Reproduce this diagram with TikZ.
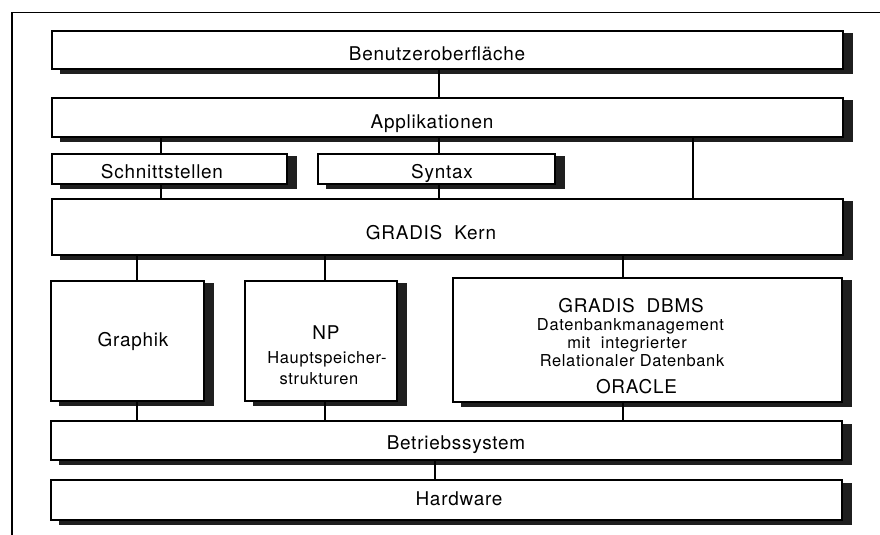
\documentclass[tikz,border=0pt]{standalone}
\usepackage{fontspec}
\setmainfont{TeX Gyre Heros}[LetterSpace=4]
\usetikzlibrary{backgrounds}
\begin{document}
\begin{tikzpicture}[x=1bp,y=-1bp,
  box/.style={draw=black,fill=white,line width=1.5bp,rectangle,inner sep=0pt,outer sep=0pt},
  conn/.style={line width=2.6bp},
  frame/.style={line width=1.5bp},
  big/.style={inner sep=0pt,anchor=base,font=\fontsize{19}{22}\selectfont},
  small/.style={inner sep=0pt,anchor=base,font=\fontsize{16.5}{19}\selectfont},
  shadowfill/.style={fill=black!88}]
\useasboundingbox (0,0) rectangle (880,535);
% frame
\coordinate (f0) at (12,535);
\coordinate (f1) at (12,12.5);
\coordinate (f2) at (880,12.5);
\draw[frame] (f0) -- (f1) -- (f2);
% boxes
\node[box,minimum width=791bp,minimum height=38bp] (benutzer) at (447.5,50) {};
\node[box,minimum width=791bp,minimum height=39bp] (appl) at (447.5,117.5) {};
\node[box,minimum width=235bp,minimum height=30bp] (schnitt) at (169.5,169) {};
\node[box,minimum width=237bp,minimum height=30bp] (syntax) at (436.5,169) {};
\node[box,minimum width=791bp,minimum height=56bp] (kern) at (447.5,227) {};
\node[box,minimum width=153bp,minimum height=120bp] (graphik) at (127.5,341) {};
\node[box,minimum width=152bp,minimum height=120bp] (np) at (321,341) {};
\node[box,minimum width=389bp,minimum height=124bp] (dbms) at (647.5,340) {};
\node[box,minimum width=791bp,minimum height=39bp] (betrieb) at (446.5,440.5) {};
\node[box,minimum width=791bp,minimum height=40bp] (hardware) at (446.5,500) {};
% shadows
\begin{scope}[on background layer]
\foreach \b in {benutzer,appl,schnitt,syntax,kern,graphik,np,dbms,betrieb,hardware}
  \fill[shadowfill] ([xshift=8bp,yshift=-5bp]\b.south west) rectangle ([xshift=10bp,yshift=-2.5bp]\b.north east);
\end{scope}
% texts
\node[big] (tbenutzer) at (437,61) {Benutzeroberfläche};
\node[big] (tappl) at (432,129) {Applikationen};
\node[big] (tschnitt) at (162,179) {Schnittstellen};
\node[big] (tsyntax) at (442,179) {Syntax};
\node[big] (tkern) at (431,240) {GRADIS\ \ Kern};
\node[big] (tgraphik) at (133,347) {Graphik};
\node[big] (tnp) at (326,340) {NP};
\node[small] (tnp2) at (327,363) {Hauptspeicher-};
\node[small] (tnp3) at (319,384) {strukturen};
\node[big] (tdbms1) at (631,312.5) {GRADIS\ \ DBMS};
\node[small] (tdbms2) at (630.5,330.5) {Datenbankmanagement};
\node[small] (tdbms3) at (627,348.5) {mit\ \ integrierter};
\node[small] (tdbms4) at (632,366.5) {Relationaler Datenbank};
\node[big] (tdbms5) at (636.5,393) {ORACLE};
\node[big] (tbetrieb) at (456,449) {Betriebssystem};
\node[big] (thardware) at (459,505) {Hardware};
% connector x positions
\coordinate (xa) at (439,0);
\coordinate (xs) at (161,0);
\coordinate (xr) at (693,0);
\coordinate (xg) at (137,0);
\coordinate (xn) at (325,0);
\coordinate (xd) at (623,0);
\coordinate (xh) at (435,0);
% connectors
\draw[conn] (benutzer.south -| xa) -- (appl.north -| xa);
\draw[conn] (appl.south -| xs) -- (schnitt.north -| xs);
\draw[conn] (schnitt.south -| xs) -- (kern.north -| xs);
\draw[conn] (appl.south -| xa) -- (syntax.north -| xa);
\draw[conn] (syntax.south -| xa) -- (kern.north -| xa);
\draw[conn] (appl.south -| xr) -- (kern.north -| xr);
\draw[conn] (kern.south -| xg) -- (graphik.north -| xg);
\draw[conn] (kern.south -| xn) -- (np.north -| xn);
\draw[conn] (kern.south -| xd) -- (dbms.north -| xd);
\draw[conn] (graphik.south -| xg) -- (betrieb.north -| xg);
\draw[conn] (np.south -| xn) -- (betrieb.north -| xn);
\draw[conn] (dbms.south -| xd) -- (betrieb.north -| xd);
\draw[conn] (betrieb.south -| xh) -- (hardware.north -| xh);
\end{tikzpicture}
\end{document}
